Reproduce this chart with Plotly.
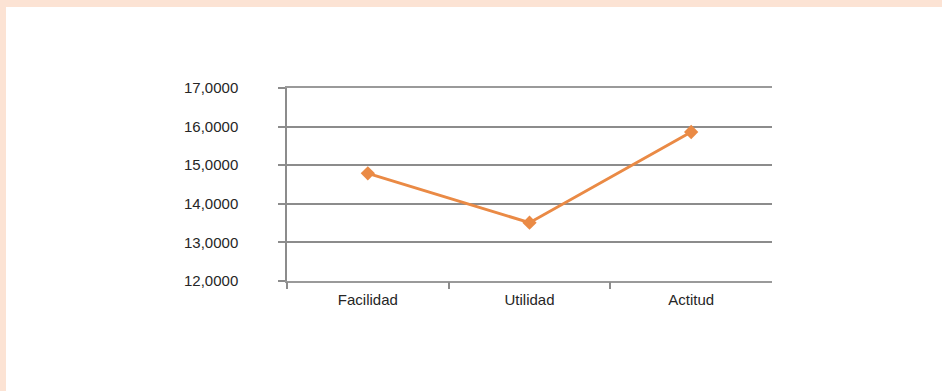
import plotly.graph_objects as go

categories = ["Facilidad", "Utilidad", "Actitud"]
values = [14.79, 13.51, 15.86]
y_ticks = [12, 13, 14, 15, 16, 17]
boundary_ticks = [-0.5, 0.5, 1.5]

W, H = 942, 391
L, R, T, B = 287, 170, 88, 110

fig = go.Figure()
fig.add_trace(go.Scatter(
    x=categories, y=values, mode="lines+markers",
    line=dict(color="#EA8A45", width=3),
    marker=dict(symbol="diamond", size=11, color="#EA8A45"),
    showlegend=False, cliponaxis=False,
))
# invisible trace on an overlaid linear axis that carries the boundary ticks
fig.add_trace(go.Scatter(
    x=boundary_ticks, y=[12] * len(boundary_ticks), xaxis="x2", mode="markers",
    marker=dict(opacity=0), showlegend=False, hoverinfo="skip",
))

# peach frame (top band and left band)
fig.add_shape(type="rect", xref="paper", yref="paper",
              x0=-L / (W - L - R), x1=(W - L) / (W - L - R),
              y0=(H - B - 7) / (H - T - B), y1=(H - B) / (H - T - B),
              fillcolor="#FCE3D4", line_width=0, layer="below")
fig.add_shape(type="rect", xref="paper", yref="paper",
              x0=-L / (W - L - R), x1=(6 - L) / (W - L - R),
              y0=-B / (H - T - B), y1=(H - B) / (H - T - B),
              fillcolor="#FCE3D4", line_width=0, layer="below")

font = dict(family="Liberation Sans", size=15, color="#262626")
fig.update_layout(
    width=W, height=H,
    margin=dict(l=L, r=R, t=T, b=B, pad=0),
    paper_bgcolor="white", plot_bgcolor="white",
    separators=",.",
    font=font,
    xaxis=dict(
        type="category", range=[-0.5, 2.5], ticks="",
        showgrid=False, showline=True, linecolor="#9A9A9A", linewidth=2,
        mirror=True,
        zeroline=False, tickfont=font, ticklabelstandoff=4,
    ),
    xaxis2=dict(
        overlaying="x", side="bottom", range=[-0.5, 2.5],
        tickvals=boundary_ticks, showticklabels=False,
        ticks="outside", ticklen=7, tickwidth=1.5, tickcolor="#8C8C8C",
        showgrid=False, showline=False, zeroline=False,
    ),
    yaxis=dict(
        range=[12, 17], tickvals=y_ticks, tickformat=".4f",
        ticks="outside", ticklen=7, tickwidth=1.5, tickcolor="#8C8C8C",
        showgrid=True, gridcolor="#8C8C8C", gridwidth=1.5,
        showline=True, linecolor="#8C8C8C", linewidth=1.5,
        zeroline=False, tickfont=font, ticklabelstandoff=37,
    ),
)

fig.write_html("out.html")
